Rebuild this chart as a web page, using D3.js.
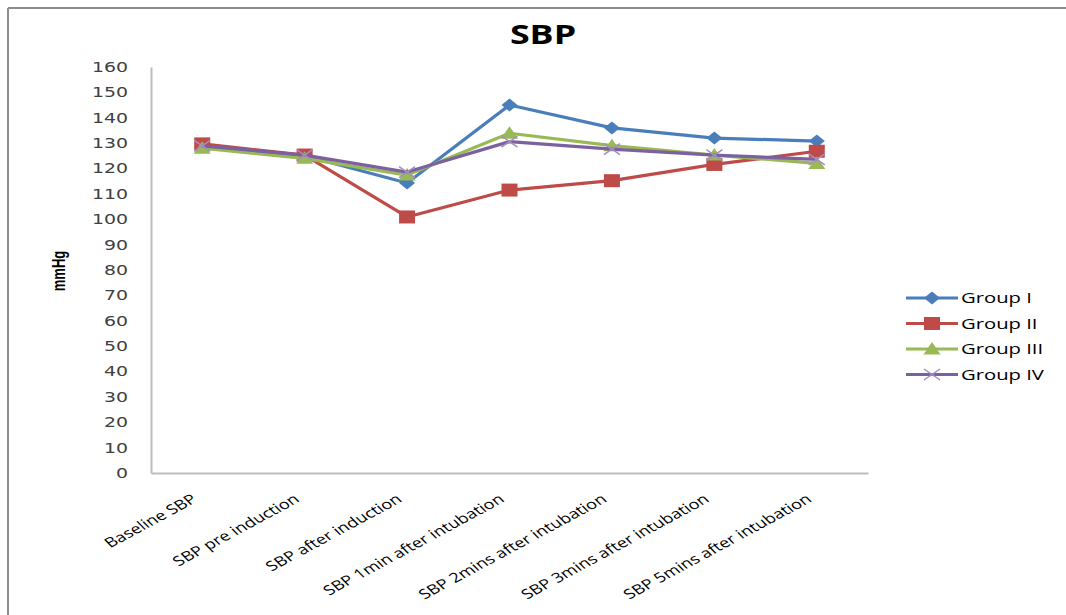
<!DOCTYPE html>
<html>
<head>
<meta charset="utf-8">
<script src="https://cdn.jsdelivr.net/npm/d3@7"></script>
<style>
  html, body { margin: 0; padding: 0; background: #fff; }
  svg { display: block; }
</style>
</head>
<body>
<svg id="chart" width="1066" height="615"></svg>
<script>
// Time points of systolic blood pressure measurement
const categories = [
  "Baseline SBP",
  "SBP pre induction",
  "SBP after induction",
  "SBP 1min after intubation",
  "SBP 2mins after intubation",
  "SBP 3mins after intubation",
  "SBP 5mins after intubation"
];

// Mean SBP (mmHg) for each group
const groupI   = [128.5, 125.0, 114.3, 145.0, 136.0, 132.0, 130.8];
const groupII  = [129.7, 125.3, 100.9, 111.5, 115.2, 121.6, 126.8];
const groupIII = [128.0, 124.0, 117.4, 133.9, 129.0, 125.3, 122.0];
const groupIV  = [128.9, 125.3, 118.6, 130.6, 127.6, 125.3, 123.6];

const yTicks = [0, 10, 20, 30, 40, 50, 60, 70, 80, 90, 100, 110, 120, 130, 140, 150, 160];

const seriesNames = ["Group I", "Group II", "Group III", "Group IV"];
const seriesColors = ["#4a7ebb", "#be4b48", "#98b954", "#7d60a0"];
const seriesMarkers = ["diamond", "square", "triangle", "cross"];
const seriesValues = [groupI, groupII, groupIII, groupIV];

// Text in this chart is drawn slightly wide
const SX = 1.35;

const svg = d3.select("#chart");

// Outer frame (top and left edges)
svg.append("line").attr("x1", 8).attr("x2", 1066).attr("y1", 8).attr("y2", 8)
  .attr("stroke", "#8c8c8c").attr("stroke-width", 2);
svg.append("line").attr("x1", 8).attr("x2", 8).attr("y1", 8).attr("y2", 615)
  .attr("stroke", "#8c8c8c").attr("stroke-width", 2);

const plot = { left: 151, right: 868, top: 67, bottom: 473 };

const x = d3.scaleBand().domain(categories).range([plot.left, plot.right]);
const y = d3.scaleLinear().domain([0, 160]).range([plot.bottom, plot.top]);
const cx = c => x(c) + x.bandwidth() / 2;

// Title
svg.append("text")
  .attr("transform", `translate(543,44) scale(${SX},1)`)
  .attr("text-anchor", "middle")
  .attr("font-family", "'Open Sans', sans-serif")
  .attr("font-weight", "bold")
  .attr("font-size", 26.5)
  .attr("fill", "#000")
  .text("SBP");

// Y axis
const yAxis = d3.axisLeft(y).tickValues(yTicks).tickSize(0).tickPadding(0);
const gy = svg.append("g").attr("transform", `translate(${plot.left},0)`).call(yAxis);
gy.select(".domain").attr("stroke", "#bdbdbd").attr("stroke-width", 2);
gy.selectAll(".tick text")
  .attr("x", 0)
  .attr("transform", `translate(-23,0) scale(${SX},1)`)
  .attr("font-family", "'DejaVu Sans', sans-serif")
  .attr("font-size", 14)
  .attr("fill", "#404040");

// X axis
const xAxis = d3.axisBottom(x).tickSize(0).tickPadding(0);
const gx = svg.append("g").attr("transform", `translate(0,${plot.bottom})`).call(xAxis);
gx.select(".domain").attr("stroke", "#bdbdbd").attr("stroke-width", 2);
gx.selectAll(".tick text")
  .attr("font-family", "'Open Sans', sans-serif")
  .attr("font-size", 13.5)
  .attr("fill", "#000")
  .attr("text-anchor", "end")
  .attr("y", 0)
  .attr("dy", 0)
  .attr("transform", `translate(-4,28) scale(${SX},1) rotate(-36)`);

// Y axis title
svg.append("text")
  .attr("transform", `translate(65,271) scale(${SX},1) rotate(-90)`)
  .attr("text-anchor", "middle")
  .attr("font-family", "'Liberation Sans Narrow', 'Liberation Sans', sans-serif")
  .attr("font-weight", "bold")
  .attr("font-size", 13)
  .attr("fill", "#000")
  .text("mmHg");

// Marker drawing
function drawMarker(g, type, color) {
  if (type === "diamond") {
    g.append("path").attr("d", "M0,-6.5 L8,0 L0,6.5 L-8,0 Z").attr("fill", color);
  } else if (type === "square") {
    g.append("rect").attr("x", -8).attr("y", -6.5).attr("width", 16).attr("height", 13).attr("fill", color);
  } else if (type === "triangle") {
    g.append("path").attr("d", "M0,-7 L8.5,5.5 L-8.5,5.5 Z").attr("fill", color);
  } else if (type === "cross") {
    g.append("path").attr("d", "M-8,-5.5 L8,5.5 M-8,5.5 L8,-5.5")
      .attr("stroke", "#a38fc0").attr("stroke-width", 1.5).attr("fill", "none");
  }
}

const line = d3.line().x((d, i) => cx(categories[i])).y(d => y(d));

seriesValues.forEach((vals, s) => {
  const g = svg.append("g");
  g.append("path")
    .datum(vals)
    .attr("d", line)
    .attr("fill", "none")
    .attr("stroke", seriesColors[s])
    .attr("stroke-width", 3.2)
    .attr("stroke-linejoin", "round");
  vals.forEach((v, i) => {
    const m = g.append("g").attr("transform", `translate(${cx(categories[i])},${y(v)})`);
    drawMarker(m, seriesMarkers[s], seriesColors[s]);
  });
});

// Legend
const legend = svg.append("g");
seriesNames.forEach((name, s) => {
  const ly = 298 + s * 25.5;
  const item = legend.append("g");
  item.append("line").attr("x1", 906).attr("x2", 958).attr("y1", ly).attr("y2", ly)
    .attr("stroke", seriesColors[s]).attr("stroke-width", 3);
  const m = item.append("g").attr("transform", `translate(932,${ly})`);
  drawMarker(m, seriesMarkers[s], seriesColors[s]);
  item.append("text")
    .attr("transform", `translate(961,${ly + 5}) scale(${SX},1)`)
    .attr("font-family", "'Open Sans', sans-serif")
    .attr("font-size", 15)
    .attr("fill", "#000")
    .text(name);
});
</script>
</body>
</html>
